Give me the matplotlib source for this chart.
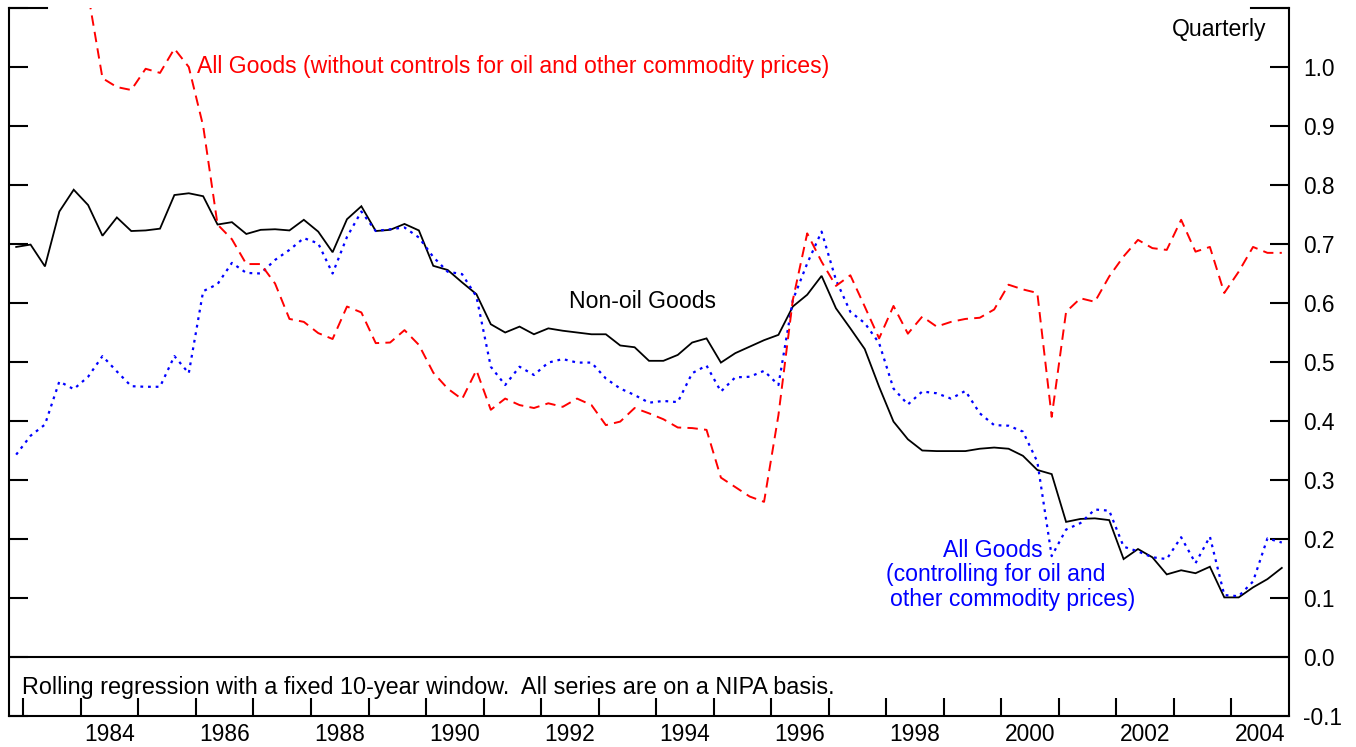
import matplotlib
matplotlib.use('Agg')
import matplotlib.pyplot as plt
import numpy as np
import pandas as pd

# quarterly, 1982Q4 - 2004Q4
quarters = pd.period_range('1982Q4', '2004Q4', freq='Q')

non_oil = [0.695, 0.699, 0.662, 0.755, 0.792, 0.766, 0.714, 0.745, 0.722, 0.723, 0.726, 0.783, 0.786, 0.781, 0.733,
           0.737, 0.717, 0.724, 0.725, 0.723, 0.741, 0.721, 0.686, 0.742, 0.764, 0.722, 0.724, 0.734, 0.723, 0.663, 0.656,
           0.635, 0.615, 0.564, 0.550, 0.560, 0.547, 0.557, 0.553, 0.550, 0.547, 0.547, 0.528, 0.525, 0.502, 0.502, 0.512,
           0.533, 0.540, 0.499, 0.515, 0.526, 0.537, 0.546, 0.594, 0.614, 0.646, 0.591, 0.557, 0.522, 0.458, 0.399, 0.369,
           0.350, 0.349, 0.349, 0.349, 0.353, 0.355, 0.353, 0.341, 0.317, 0.310, 0.229, 0.234, 0.235, 0.232,
           0.166, 0.183, 0.169, 0.140, 0.147, 0.142, 0.153, 0.101, 0.101, 0.118, 0.132, 0.151]

all_ctrl = [0.343, 0.375, 0.394, 0.467, 0.454, 0.475, 0.510, 0.484, 0.459, 0.458, 0.458, 0.510, 0.481, 0.620, 0.632,
            0.668, 0.651, 0.650, 0.673, 0.690, 0.710, 0.701, 0.650, 0.712, 0.755, 0.722, 0.725, 0.728, 0.711, 0.678, 0.653,
            0.649, 0.611, 0.492, 0.461, 0.492, 0.478, 0.499, 0.505, 0.499, 0.499, 0.472, 0.455, 0.444, 0.431, 0.434, 0.432,
            0.481, 0.494, 0.450, 0.474, 0.475, 0.485, 0.461, 0.605, 0.667, 0.721, 0.639, 0.585, 0.566, 0.532, 0.455, 0.428,
            0.450, 0.447, 0.438, 0.451, 0.413, 0.393, 0.392, 0.382, 0.331, 0.171, 0.216, 0.227, 0.250, 0.248,
            0.187, 0.179, 0.169, 0.166, 0.203, 0.159, 0.204, 0.105, 0.103, 0.128, 0.201, 0.194]

nan = np.nan
all_noctrl = [nan, nan, nan, nan, nan, 1.124, 0.981, 0.966, 0.961, 0.997, 0.990, 1.031, 1.000, 0.900, 0.733,
              0.708, 0.666, 0.666, 0.633, 0.573, 0.568, 0.549, 0.539, 0.594, 0.584, 0.532, 0.533, 0.554, 0.529, 0.482, 0.455,
              0.437, 0.486, 0.419, 0.438, 0.427, 0.422, 0.430, 0.424, 0.438, 0.427, 0.393, 0.399, 0.422, 0.413, 0.403, 0.389,
              0.388, 0.385, 0.304, 0.288, 0.272, 0.263, 0.410, 0.605, 0.718, 0.670, 0.629, 0.647, 0.594, 0.540, 0.595, 0.548,
              0.577, 0.560, 0.568, 0.573, 0.575, 0.589, 0.631, 0.623, 0.617, 0.407, 0.585, 0.608, 0.602, 0.645,
              0.679, 0.707, 0.693, 0.690, 0.741, 0.687, 0.695, 0.617, 0.653, 0.695, 0.685, 0.685]

years = np.arange(1983, 2005)
label_years = np.arange(1984, 2005, 2)
yticks = np.round(np.arange(-0.1, 1.11, 0.1), 1)


def main():
    plt.rcParams['font.family'] = ['Liberation Sans', 'DejaVu Sans']
    plt.rcParams['lines.scale_dashes'] = False
    fs = 16.6

    x = np.array([q.year + (q.quarter - 0.5) / 4 for q in quarters])

    fig = plt.figure(figsize=(13.56, 7.47), dpi=100)
    ax = fig.add_axes([9/1356, 31/747, 1280/1356, 708/747])

    ax.plot(x, non_oil, color='black', lw=1.3, solid_joinstyle='miter')
    ax.plot(x, all_ctrl, color='blue', lw=1.6, dashes=(2, 3.5))
    ax.plot(x, all_noctrl, color='red', lw=1.4, dashes=(7.5, 4.5))
    ax.axhline(0, color='black', lw=1.5)

    ax.set_xlim(1982.75, 2005.0)
    ax.set_ylim(-0.1, 1.1)

    ax.spines['top'].set_visible(False)
    for s in ['left', 'right', 'bottom']:
        ax.spines[s].set_linewidth(1.5)

    # y axis: ticks both sides, labels right
    ax.set_yticks(yticks)
    ax.set_yticklabels(['%.1f' % v if v < 1.05 else '' for v in yticks])
    ax.tick_params(axis='y', which='major', direction='in', left=True, right=True,
                   labelleft=False, labelright=True, length=14, width=1.5, pad=10, labelsize=16.4)
    ax.plot([0, 0.03], [1, 1], color='black', lw=1.5, transform=ax.transAxes, clip_on=False)
    ax.plot([0.97, 1], [1, 1], color='black', lw=1.5, transform=ax.transAxes, clip_on=False)

    # x axis: year ticks, labels centered in the year
    ax.set_xticks(years)
    ax.set_xticklabels([])
    ax.set_xticks(label_years + 0.5, minor=True)
    ax.set_xticklabels([str(y) for y in label_years], minor=True)
    ax.tick_params(axis='x', which='major', direction='in', length=13, width=1.5)
    ax.tick_params(axis='x', which='minor', length=0, pad=5, labelsize=16.4)

    ax.text(1986.01, 1.0, 'All Goods (without controls for oil and other commodity prices)',
            color='red', fontsize=fs, va='center', ha='left')
    ax.text(1992.49, 0.602, 'Non-oil Goods', color='black', fontsize=fs, va='center', ha='left')
    ax.text(2004.60, 1.063, 'Quarterly', color='black', fontsize=fs, va='center', ha='right')
    ax.text(1999.85, 0.181, 'All Goods', color='blue', fontsize=fs, va='center', ha='center')
    ax.text(1999.90, 0.139, '(controlling for oil and', color='blue', fontsize=fs, va='center', ha='center')
    ax.text(2000.20, 0.098, 'other commodity prices)', color='blue', fontsize=fs, va='center', ha='center')
    ax.text(1982.97, -0.0525, 'Rolling regression with a fixed 10-year window.  All series are on a NIPA basis.',
            color='black', fontsize=16.8, va='center', ha='left')

    fig.savefig('out.png', dpi=100)


if __name__ == '__main__':
    main()
